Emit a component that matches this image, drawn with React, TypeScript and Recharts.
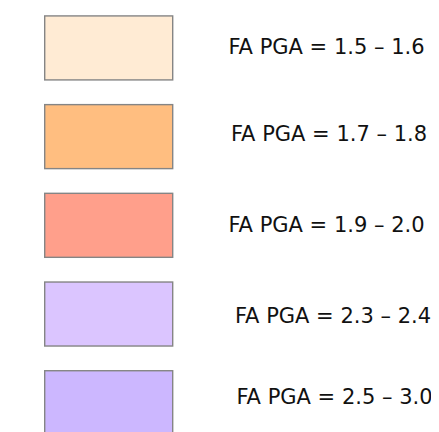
import React from "react";
import { ScatterChart, Scatter, XAxis, YAxis } from "recharts";

const labels = [
  "FA PGA = 1.5 – 1.6",
  "FA PGA = 1.7 – 1.8",
  "FA PGA = 1.9 – 2.0",
  "FA PGA = 2.3 – 2.4",
  "FA PGA = 2.5 – 3.0",
];
const colors = ["#FFEBD4", "#FFBE80", "#FF9F8B", "#DBC5FF", "#CCB7FF"];
const rows = [0, 1, 2, 3, 4];

// layout tweaks (style only)
const textDx = [0, 2.5, 0, 6.5, 8];
const textDy = [-1, -2.5, -0.5, 2, -5.5];

const data = rows.map((r, i) => ({ row: r, col: 0, label: labels[i], color: colors[i], idx: i }));

const BOX_W = 128;
const BOX_H = 64;
const BOX_LEFT = 36.7;
const TEXT_CX = 318.5;

const Swatch = (props: any) => {
  const { cx, cy, payload } = props;
  const i = payload.idx;
  return (
    <g>
      <rect
        x={cx + BOX_LEFT}
        y={cy - BOX_H / 2}
        width={BOX_W}
        height={BOX_H}
        fill={payload.color}
        stroke="#858585"
        strokeWidth={1.4}
      />
      <text
        x={cx + TEXT_CX + textDx[i]}
        y={cy + textDy[i]}
        textAnchor="middle"
        dominantBaseline="central"
        fontFamily="DejaVu Sans"
        fontSize={21}
        fill="#111111"
      >
        {payload.label}
      </text>
    </g>
  );
};

export default function App() {
  return (
    <ScatterChart width={431} height={424} margin={{ top: 0, right: 0, bottom: 0, left: 0 }}>
      <XAxis type="number" dataKey="col" domain={[0, 1]} hide />
      <YAxis type="number" dataKey="row" domain={[-0.45, 4.33]} reversed hide />
      <Scatter data={data} shape={<Swatch />} isAnimationActive={false} />
    </ScatterChart>
  );
}
